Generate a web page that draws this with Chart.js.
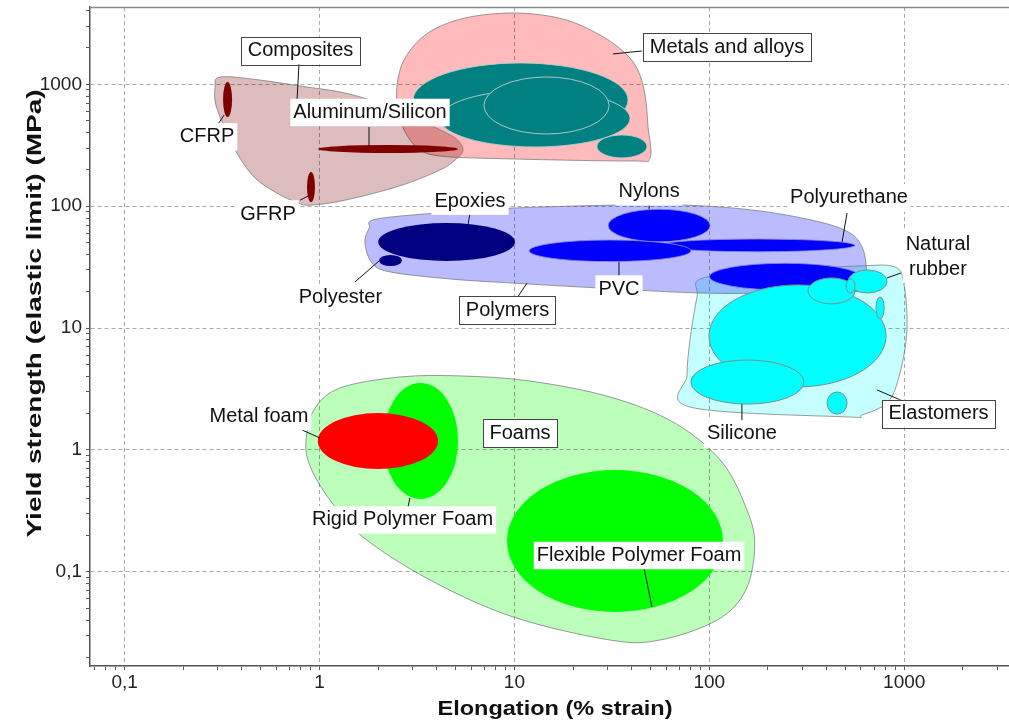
<!DOCTYPE html>
<html>
<head>
<meta charset="utf-8">
<style>
  html, body { margin: 0; padding: 0; background: #fff; }
  canvas { display: block; }
</style>
<script src="https://cdn.jsdelivr.net/npm/chart.js@4.4.1/dist/chart.umd.min.js"></script>
</head>
<body>
<canvas id="ashby" width="1009" height="722"></canvas>
<script>
// ---- Axes ----------------------------------------------------------------
const X_RANGE = [0.06645, 3449];          // elongation, % strain
const Y_RANGE = [0.0169, 4306];           // yield strength, MPa
const X_TICKS = [0.1, 1, 10, 100, 1000];
const X_TICK_LABELS = ['0,1', '1', '10', '100', '1000'];
const Y_TICKS = [0.1, 1, 10, 100, 1000];
const Y_TICK_LABELS = ['0,1', '1', '10', '100', '1000'];
const X_TITLE = 'Elongation (% strain)';
const Y_TITLE = 'Yield strength (elastic limit) (MPa)';

// ---- Material bubbles: [elongation min, elongation max, yield min, yield max]
const METALS = [
  [3.02, 38.3, 370, 1496],
  [4.15, 39.2, 306, 898],
  [26.5, 47.9, 249, 384],
  [6.98, 30.6, 391, 1148]
];
const COMPOSITES = [
  [0.320, 0.356, 539, 1044],   // CFRP
  [0.863, 0.948, 108, 191],    // GFRP
  [0.982, 5.14, 273, 318]      // Aluminum/Silicon
];
const THERMOSETS = [
  [2.0, 10.07, 35.5, 72.8],    // Epoxies
  [2.02, 2.65, 32.3, 39.8]     // Polyester
];
const THERMOPLASTICS = [
  [100, 593, 20.5, 34.0],
  [55.8, 559, 42.3, 53.8],     // Polyurethane
  [11.9, 80.5, 35.1, 52.8],    // PVC
  [30.3, 100.9, 51.1, 94.3]    // Nylons
];
const ELASTOMERS = [
  [99.6, 807, 3.29, 22.6],
  [80.5, 306, 2.38, 5.47],     // Silicone
  [402, 509, 1.97, 2.99],
  [717, 789, 11.9, 18.0],
  [321, 559, 15.8, 25.8],
  [515, 817, 19.4, 30.0],      // Natural rubber
  [503, 559, 19.4, 25.3]
];
const POLYMER_FOAMS = [
  [2.12, 5.14, 0.396, 3.55],   // Rigid polymer foam
  [9.16, 117.5, 0.0469, 0.685] // Flexible polymer foam
];
const METAL_FOAMS = [
  [0.98, 4.06, 0.698, 2.01]
];

// ---- Family envelopes: outline points [elongation, yield] -------------------
const METALS_ENVELOPE = [
  [10.07, 3846], [17.7, 3436], [27.5, 2537], [36.9, 1806], [43.0, 1310], [46.8, 817],
  [48.5, 447], [49.6, 248], [39.2, 235], [9.84, 244], [4.15, 258], [3.20, 300],
  [2.75, 406], [2.53, 615], [2.50, 987], [2.75, 1644], [3.60, 2635], [5.58, 3499]
];
const COMPOSITES_ENVELOPE = [
  [0.309, 1148], [0.495, 1084], [0.794, 968], [1.274, 865], [1.816, 743], [2.59, 593],
  [3.69, 464], [4.96, 363], [5.45, 289], [4.96, 239], [4.15, 198], [2.59, 147],
  [1.35, 112], [0.894, 102], [0.757, 108], [0.605, 128], [0.467, 170], [0.382, 263],
  [0.327, 438], [0.294, 676], [0.291, 933]
];
const POLYMERS_ENVELOPE = [
  [1.97, 78.5], [4.67, 89.6], [9.84, 96.6], [32.1, 102], [76.9, 102], [182, 91.4],
  [370, 74.1], [527, 60.3], [608, 46.2], [637, 33.0], [629, 22.6], [540, 19.8],
  [231, 19.4], [89.6, 19.4], [27.5, 21.3], [9.84, 23.4], [4.67, 25.3], [2.30, 28.9],
  [1.86, 34.2], [1.71, 49.9], [1.80, 66.2]
];
const ELASTOMERS_ENVELOPE = [
  [92.9, 25.8], [231, 29.4], [579, 32.3], [897, 31.7], [998, 22.6], [1033, 9.64],
  [951, 4.28], [826, 2.48], [607, 1.94], [497, 1.87], [79.6, 2.25], [76.9, 4.12],
  [79.6, 7.99], [86.5, 18.0]
];
const FOAMS_ENVELOPE = [
  [0.853, 1.19], [0.937, 2.13], [1.27, 3.22], [2.59, 3.97], [5.26, 4.05], [12.0, 3.68],
  [31.0, 2.72], [66.7, 1.66], [116, 0.797], [156, 0.322], [171, 0.166], [154, 0.0711],
  [110, 0.0403], [55.8, 0.0276], [31.0, 0.0276], [9.84, 0.0427], [3.69, 0.0858],
  [1.67, 0.193], [1.13, 0.389], [0.894, 0.739]
];

// ---- Annotations: text anchored at [elongation, yield], optional leader line
const LABELS = [
  { text: ['Composites'], at: [0.799, 1893], boxed: true, leader: [[0.785, 1466], [0.767, 743]] },
  { text: ['Metals and alloys'], at: [123.3, 2020], boxed: true, leader: [[32.1, 1774], [45.1, 1876]] },
  { text: ['Polymers'], at: [9.22, 14.07], boxed: true, leader: [[10.4, 18.0], [11.6, 23.4]] },
  { text: ['Foams'], at: [10.69, 1.378], boxed: true },
  { text: ['Elastomers'], at: [1500, 1.99], boxed: true, leader: [[725, 3.11], [985, 2.52]] },
  { text: ['Aluminum/Silicon'], at: [1.816, 587], leader: [[1.795, 446], [1.795, 312]] },
  { text: ['CFRP'], at: [0.265, 370], leader: [[0.302, 472], [0.324, 560]] },
  { text: ['GFRP'], at: [0.544, 86.3], leader: [[0.794, 112], [0.873, 121]] },
  { text: ['Epoxies'], at: [5.92, 110], leader: [[5.92, 87.9], [5.78, 70.1]] },
  { text: ['Nylons'], at: [49.1, 131], leader: [[49.1, 112], [49.1, 94.9]] },
  { text: ['Polyurethane'], at: [521, 117], leader: [[509, 87.9], [480, 50.9]] },
  { text: ['Natural', 'rubber'], at: [1489, 38.3], leader: [[817, 25.8], [962, 28.3]] },
  { text: ['Polyester'], at: [1.281, 17.8], leader: [[1.52, 23.9], [2.02, 35.5]] },
  { text: ['PVC'], at: [34.4, 20.9], leader: [[34.4, 34.9], [34.4, 24.3]] },
  { text: ['Silicone'], at: [147, 1.353], leader: [[147, 2.38], [147, 1.545]] },
  { text: ['Metal foam'], at: [0.489, 1.883], leader: [[0.813, 1.46], [1.006, 1.254]] },
  { text: ['Rigid Polymer Foam'], at: [2.667, 0.2666], leader: [[2.91, 0.404], [2.81, 0.310]] },
  { text: ['Flexible Polymer Foam'], at: [43.6, 0.1363], leader: [[45.7, 0.118], [50.8, 0.0515]] }
];

// ---- Drawing styles ----------------------------------------------------------
const FONT = '"Liberation Sans", Arial, Helvetica, sans-serif';
const ENVELOPES = [
  { pts: METALS_ENVELOPE, fill: '#ffbbbb' },
  { pts: COMPOSITES_ENVELOPE, fill: '#dcbcbc' },
  { pts: POLYMERS_ENVELOPE, fill: '#bbbbff' },
  { pts: ELASTOMERS_ENVELOPE, fill: '#c6ffff' },
  { pts: FOAMS_ENVELOPE, fill: '#bbffbb' }
];
const BUBBLE_GROUPS = [
  { items: METALS, fill: '#008080', stroke: 'rgba(190,205,205,0.9)' },
  { items: COMPOSITES, fill: '#800000', stroke: null },
  { items: THERMOSETS, fill: '#000080', stroke: null },
  { items: THERMOPLASTICS, fill: '#0000ff', stroke: 'rgba(140,140,210,0.8)' },
  { items: ELASTOMERS, fill: '#00ffff', stroke: '#7f8c8c' },
  { items: POLYMER_FOAMS, fill: '#00ff00', stroke: null },
  { items: METAL_FOAMS, fill: '#ff0000', stroke: null }
];

function logTicks(range, majors) {
  const out = [];
  const lo = Math.floor(Math.log10(range[0])), hi = Math.ceil(Math.log10(range[1]));
  for (let d = lo; d <= hi; d++) {
    for (let m = 1; m <= 9; m++) {
      const v = m * Math.pow(10, d);
      if (v >= range[0] && v <= range[1]) {
        const major = m === 1 && majors.some(t => Math.abs(v / t - 1) < 1e-9);
        out.push({ value: v, major });
      }
    }
  }
  return out;
}
function tickLabel(value, majors, labels) {
  const i = majors.findIndex(t => Math.abs(value / t - 1) < 1e-9);
  return i >= 0 ? labels[i] : '';
}

// closed Catmull-Rom outline through pixel points
function smoothClosedPath(ctx, p) {
  const n = p.length;
  ctx.beginPath();
  ctx.moveTo(p[0][0], p[0][1]);
  for (let i = 0; i < n; i++) {
    const p0 = p[(i - 1 + n) % n], p1 = p[i], p2 = p[(i + 1) % n], p3 = p[(i + 2) % n];
    ctx.bezierCurveTo(
      p1[0] + (p2[0] - p0[0]) / 6, p1[1] + (p2[1] - p0[1]) / 6,
      p2[0] - (p3[0] - p1[0]) / 6, p2[1] - (p3[1] - p1[1]) / 6,
      p2[0], p2[1]);
  }
  ctx.closePath();
}

const materialMap = {
  id: 'materialMap',
  beforeDatasetsDraw(chart) {
    const { ctx, chartArea: a, scales: { x, y } } = chart;
    const px = v => x.getPixelForValue(v);
    const py = v => y.getPixelForValue(v);

    ctx.save();
    // frame line along the top of the plot
    ctx.strokeStyle = '#8a8a8a';
    ctx.lineWidth = 1.5;
    ctx.beginPath();
    ctx.moveTo(a.left, a.top + 0.5);
    ctx.lineTo(a.right, a.top + 0.5);
    ctx.stroke();

    ctx.beginPath();
    ctx.rect(a.left, a.top, a.right - a.left, a.bottom - a.top);
    ctx.clip();

    // family envelopes, blended so overlaps darken
    for (const env of ENVELOPES) {
      const pts = env.pts.map(([vx, vy]) => [px(vx), py(vy)]);
      smoothClosedPath(ctx, pts);
      ctx.globalCompositeOperation = 'multiply';
      ctx.fillStyle = env.fill;
      ctx.fill();
      ctx.globalCompositeOperation = 'source-over';
      ctx.strokeStyle = 'rgba(120,120,120,0.75)';
      ctx.lineWidth = 1;
      ctx.stroke();
    }

    // material bubbles
    for (const g of BUBBLE_GROUPS) {
      for (const [x0, x1, y0, y1] of g.items) {
        const l = px(x0), r = px(x1), t = py(y1), b = py(y0);
        ctx.beginPath();
        ctx.ellipse((l + r) / 2, (t + b) / 2, (r - l) / 2, (b - t) / 2, 0, 0, Math.PI * 2);
        ctx.fillStyle = g.fill;
        ctx.fill();
        if (g.stroke) {
          ctx.strokeStyle = g.stroke;
          ctx.lineWidth = 1;
          ctx.stroke();
        }
      }
    }

    // leader lines
    ctx.strokeStyle = '#111';
    ctx.lineWidth = 1;
    for (const lab of LABELS) {
      if (!lab.leader) continue;
      const [[ax, ay], [bx, by]] = lab.leader;
      ctx.beginPath();
      ctx.moveTo(px(ax), py(ay));
      ctx.lineTo(px(bx), py(by));
      ctx.stroke();
    }

    // labels
    ctx.font = '20px ' + FONT;
    ctx.textAlign = 'center';
    ctx.textBaseline = 'middle';
    const LINE = 24.5;
    for (const lab of LABELS) {
      const cx = px(lab.at[0]), cy = py(lab.at[1]);
      const w = Math.max(...lab.text.map(s => ctx.measureText(s).width));
      const h = lab.text.length * LINE;
      const padX = lab.boxed ? 6.5 : 3;
      const bx = cx - w / 2 - padX, by = cy - h / 2 - 1.5, bw = w + 2 * padX, bh = h + 3;
      ctx.fillStyle = '#fff';
      ctx.fillRect(bx, by, bw, bh);
      if (lab.boxed) {
        ctx.strokeStyle = '#444';
        ctx.lineWidth = 1;
        ctx.strokeRect(Math.round(bx) + 0.5, Math.round(by) + 0.5, Math.round(bw), Math.round(bh));
      }
      ctx.fillStyle = '#111';
      lab.text.forEach((s, i) => {
        ctx.fillText(s, cx, cy + (i - (lab.text.length - 1) / 2) * LINE);
      });
    }
    ctx.restore();
  },
  afterDraw(chart) {
    const { ctx } = chart;
    ctx.save();
    ctx.fillStyle = '#111';
    ctx.textAlign = 'center';
    ctx.textBaseline = 'alphabetic';

    ctx.font = 'bold 21px ' + FONT;
    ctx.save();
    ctx.translate(555, 715);
    ctx.scale(235 / ctx.measureText(X_TITLE).width, 1);
    ctx.fillText(X_TITLE, 0, 0);
    ctx.restore();

    ctx.font = 'bold 20px ' + FONT;
    ctx.save();
    ctx.translate(40.5, 313.5);
    ctx.rotate(-Math.PI / 2);
    ctx.scale(448 / ctx.measureText(Y_TITLE).width, 1);
    ctx.fillText(Y_TITLE, 0, 0);
    ctx.restore();

    ctx.restore();
  }
};

const gridColor = ctx => (ctx.tick && ctx.tick.major) ? '#a8a8a8' : 'rgba(0,0,0,0)';

new Chart(document.getElementById('ashby'), {
  type: 'scatter',
  data: { datasets: [] },
  options: {
    responsive: false,
    animation: false,
    events: [],
    layout: { padding: { top: 7, right: 0, bottom: 0, left: 0 } },
    plugins: { legend: { display: false }, tooltip: { enabled: false }, title: { display: false } },
    scales: {
      x: {
        type: 'logarithmic',
        min: X_RANGE[0], max: X_RANGE[1], bounds: 'data',
        afterBuildTicks: s => { s.ticks = logTicks(X_RANGE, X_TICKS); },
        afterFit: s => { s.height = 56; s.paddingLeft = 0; s.paddingRight = 0; },
        ticks: {
          autoSkip: false, maxRotation: 0, minRotation: 0, padding: 1,
          color: '#222', font: { family: FONT, size: 19 },
          callback: v => tickLabel(v, X_TICKS, X_TICK_LABELS)
        },
        grid: { color: gridColor, lineWidth: 1, tickLength: 4, tickColor: '#555', drawTicks: true },
        border: { display: true, color: '#555', width: 1.5, dash: [4, 3] }
      },
      y: {
        type: 'logarithmic',
        min: Y_RANGE[0], max: Y_RANGE[1], bounds: 'data',
        afterBuildTicks: s => { s.ticks = logTicks(Y_RANGE, Y_TICKS); },
        afterFit: s => { s.width = 90; s.paddingTop = 0; s.paddingBottom = 0; },
        ticks: {
          autoSkip: false, padding: 4,
          color: '#222', font: { family: FONT, size: 19 },
          callback: v => tickLabel(v, Y_TICKS, Y_TICK_LABELS)
        },
        grid: { color: gridColor, lineWidth: 1, tickLength: 4, tickColor: '#555', drawTicks: true },
        border: { display: true, color: '#555', width: 1.5, dash: [4, 3] }
      }
    }
  },
  plugins: [materialMap]
});
</script>
</body>
</html>
